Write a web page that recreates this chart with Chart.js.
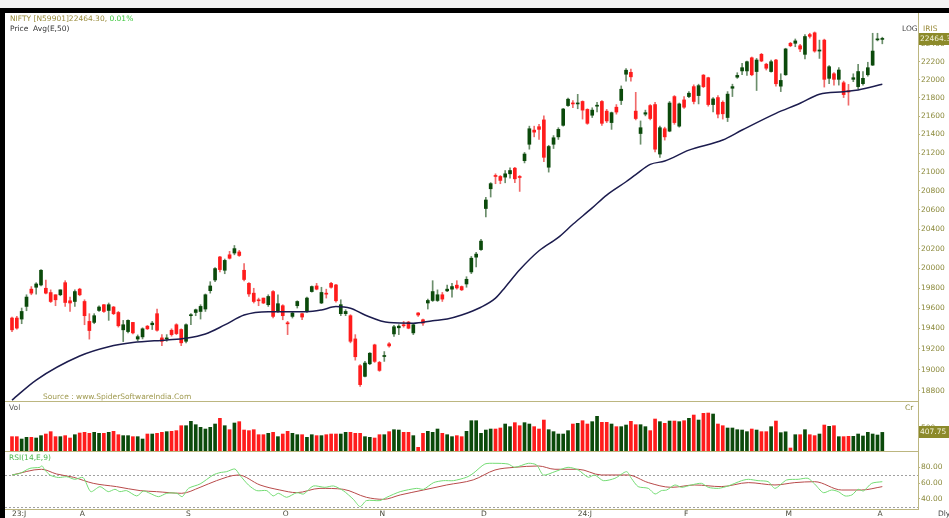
<!DOCTYPE html>
<html>
<head>
<meta charset="utf-8">
<script src="https://cdn.jsdelivr.net/npm/chart.js@4.4.1/dist/chart.umd.min.js"></script>
<style>
  html, body { margin: 0; padding: 0; background: #fff; }
  body { width: 949px; height: 518px; position: relative; overflow: hidden; font-family: 'DejaVu Sans', sans-serif; font-size: 7.5px; }
  .t { position: absolute; white-space: nowrap; line-height: 9px; }
  .bar { position: absolute; }
  canvas { position: absolute; }
</style>
</head>
<body>
<canvas id="main" width="944" height="389" style="left:5px;top:13px"></canvas>
<canvas id="vol" width="944" height="50" style="left:5px;top:402px"></canvas>
<canvas id="rsi" width="944" height="66" style="left:5px;top:452px"></canvas>

<div class="bar" style="left:0;top:0;width:949px;height:8px;background:#f3f3f3"></div>
<div class="bar" style="left:0;top:8px;width:949px;height:5px;background:#000"></div>
<div class="bar" style="left:0;top:8px;width:5px;height:510px;background:#000"></div>
<div class="bar" style="left:5px;top:401px;width:913px;height:1px;background:#bcb680"></div>
<div class="bar" style="left:5px;top:451px;width:913px;height:1px;background:#bcb680"></div>

<div class="t" style="left:10px;top:14px;color:#9a8c3c">NIFTY [N59901]22464.30, <span style="color:#3cc83c">0.01%</span></div>
<div class="t" style="left:10px;top:24px;color:#333">Price&nbsp; Avg(E,50)</div>
<div class="t" style="left:902px;top:24px;color:#444">LOG</div>
<div class="t" style="left:923px;top:24px;color:#9a8c3c">IRIS</div>
<div class="t" style="left:43px;top:392px;color:#a09a50">Source : www.SpiderSoftwareIndia.Com</div>
<div class="t" style="left:9px;top:403px;color:#555">Vol</div>
<div class="t" style="left:905px;top:403px;color:#8c8a3c">Cr</div>
<div class="t" style="left:9px;top:453px;color:#4cb84c">RSI(14,E,9)</div>
<div class="t" style="left:938px;top:509px;color:#444">Dly</div>

<script>
// 일봉 OHLC (2023-07-12 ~ 2024-04)
const opens = [
  19503,19503,19493,19618,19790,19809,19832,19799,19756,19734,
  19734,19855,19674,19667,19790,19667,19470,19460,19578,19635,
  19578,19612,19558,19387,19370,19460,19297,19318,19423,19437,
  19546,19308,19298,19383,19437,19390,19275,19526,19558,19568,
  19592,19775,19882,20115,19980,20137,20155,20166,19980,19848,
  19750,19684,19701,19635,19766,19575,19625,19456,19519,19625,
  19546,19568,19766,19822,19652,19750,19848,19832,19546,19546,
  19526,19298,19038,18936,19057,19240,19070,19127,19250,19347,
  19407,19437,19463,19357,19553,19486,19652,19677,19677,19734,
  19773,19790,19830,19816,19842,19963,20113,20190,20614,20821,
  20961,20951,20944,20979,21039,20951,21119,21295,21448,21485,
  21559,21049,21295,21375,21500,21716,21744,21734,21761,21674,
  21610,21709,21761,21655,21530,21698,21772,22063,22084,21655,
  21411,21622,21716,21727,21190,21463,21437,21815,21491,21778,
  21815,21925,21826,22053,22024,21727,21804,21752,21585,21907,
  22030,22100,22100,22247,22093,22286,22175,22093,22222,21930,
  22057,22411,22411,22383,22286,22510,22530,22323,22447,22017,
  22068,22006,21968,21880,22006,21925,21958,22057,22165,22450,
  22455
];
const highs = [
  19513,19519,19602,19734,19816,19855,19987,19882,19783,19734,
  19783,19875,19711,19783,19799,19684,19546,19546,19625,19635,
  19652,19618,19568,19480,19486,19460,19337,19407,19430,19470,
  19592,19340,19340,19397,19447,19397,19447,19546,19592,19635,
  19742,19865,20007,20121,20094,20172,20232,20182,20047,19855,
  19799,19701,19701,19734,19776,19734,19635,19470,19568,19674,
  19553,19711,19822,19848,19809,19790,19858,19839,19684,19585,
  19536,19340,19048,19080,19165,19247,19080,19175,19263,19430,
  19437,19470,19470,19443,19558,19493,19691,19875,19783,19757,
  19832,19848,19875,19822,19915,20120,20161,20295,20730,20886,
  20979,20961,21014,21042,21049,20961,21207,21491,21491,21511,
  21603,21284,21389,21474,21685,21797,21772,21840,21768,21681,
  21692,21751,21772,21674,21645,21727,21933,22127,22121,21862,
  21548,21666,21727,21751,21491,21480,21761,21826,21744,21815,
  21870,21945,21952,22060,22030,21804,21826,21768,21870,21952,
  22080,22186,22211,22256,22240,22297,22186,22222,22230,22068,
  22355,22422,22460,22400,22510,22525,22540,22447,22458,22160,
  22080,22137,21986,21950,22068,22175,22093,22197,22525,22525,
  22480
];
const lows = [
  19370,19394,19447,19575,19734,19740,19822,19742,19657,19625,
  19724,19618,19568,19618,19724,19437,19296,19447,19568,19558,
  19480,19536,19414,19272,19357,19346,19280,19298,19390,19390,
  19373,19232,19275,19325,19340,19232,19260,19437,19526,19493,
  19568,19750,19865,19963,19945,20094,20137,20121,19872,19717,
  19652,19625,19645,19618,19503,19558,19486,19340,19503,19602,
  19486,19558,19760,19783,19645,19701,19799,19661,19526,19526,
  19260,19092,18840,18930,19048,19070,18984,19080,19217,19323,
  19340,19413,19397,19340,19519,19430,19592,19667,19667,19667,
  19766,19711,19790,19776,19809,19946,20014,20182,20527,20734,
  20874,20874,20884,20933,20884,20793,21095,21242,21375,21347,
  21108,20997,21249,21347,21491,21706,21692,21681,21568,21511,
  21585,21645,21500,21530,21456,21622,21727,21986,21986,21559,
  21295,21603,21559,21214,21155,21340,21430,21511,21480,21685,
  21804,21734,21734,21914,21709,21645,21580,21568,21541,21815,
  22017,22057,22050,22046,21882,22203,22110,22086,21930,21870,
  22050,22372,22372,22316,22234,22470,22310,22240,21920,21958,
  21942,21942,21804,21720,21980,21900,21942,22041,22160,22438,
  22405
];
const closes = [
  19387,19404,19568,19711,19750,19842,19980,19750,19667,19684,
  19783,19657,19652,19766,19734,19526,19380,19526,19612,19568,
  19635,19546,19427,19437,19480,19357,19320,19397,19397,19453,
  19383,19275,19308,19340,19350,19260,19437,19536,19585,19618,
  19734,19822,19997,19987,20080,20102,20200,20130,19887,19742,
  19667,19674,19652,19717,19519,19645,19526,19446,19553,19667,
  19513,19701,19816,19790,19757,19740,19809,19674,19635,19568,
  19275,19125,18857,19064,19159,19080,18993,19137,19230,19417,
  19423,19427,19403,19437,19533,19453,19677,19766,19734,19691,
  19790,19816,19802,19783,19889,20102,20144,20277,20703,20875,
  20951,20909,20979,21014,20926,20940,21190,21463,21426,21456,
  21155,21271,21365,21456,21678,21786,21734,21744,21666,21522,
  21666,21716,21522,21548,21638,21645,21896,22108,22034,21574,
  21474,21638,21574,21242,21474,21375,21744,21530,21734,21698,
  21852,21761,21936,21925,21727,21789,21622,21626,21842,21925,
  22050,22136,22203,22057,22222,22211,22130,22203,21957,21994,
  22347,22383,22438,22346,22488,22490,22323,22335,22006,22147,
  22006,22110,21837,21865,22024,22093,22017,22136,22323,22460,
  22464.3
];

// 거래량 (Cr)
const volumes = [
  319,319,270,305,305,291,340,374,423,319,
  319,340,291,360,395,409,388,409,388,388,
  409,430,360,340,340,319,319,270,374,374,
  388,409,423,430,444,547,547,638,568,513,
  478,513,582,700,547,464,603,631,457,444,
  464,360,360,388,409,319,374,430,388,360,
  360,305,360,340,340,360,374,374,374,409,
  409,388,388,319,305,291,360,360,423,464,
  457,409,409,340,97,388,430,409,478,388,
  360,319,340,319,430,651,651,388,457,478,
  478,499,582,527,610,547,610,582,527,478,
  665,464,423,374,374,444,582,596,651,582,
  631,742,617,617,582,527,527,561,638,568,
  568,527,444,686,631,596,644,644,631,651,
  700,769,665,804,811,790,582,547,499,499,
  464,457,423,478,457,423,423,527,644,402,
  420,83,360,360,464,360,340,374,561,534,
  547,319,319,326,326,374,333,409,374,353,
  407.75
];

// EMA(50) - 그림에서 읽은 값
const emaAt  = [0, 5, 14, 20, 25, 32, 36, 40, 44, 48, 53, 61, 64, 67, 70, 73, 78, 83, 87, 90, 93, 97, 100, 102, 105, 109, 113, 116, 120, 123, 127, 129, 132, 135, 140, 147, 151, 158, 163, 167, 172, 175, 180];
const emaVal = [18710, 18901, 19132, 19222, 19262, 19288, 19305, 19346, 19435, 19533, 19566, 19566, 19583, 19616, 19600, 19533, 19458, 19452, 19477, 19494, 19533, 19610, 19700, 19810, 19985, 20178, 20315, 20450, 20620, 20755, 20895, 20970, 21079, 21115, 21232, 21341, 21449, 21631, 21741, 21840, 21869, 21888, 21951];

// RSI(14) / 시그널(9)
const rsiAt  = [0, 1.7, 3.7, 5.8, 6.2, 6.8, 7.9, 9.6, 11.3, 13, 14.7, 16.3, 18.2, 19.9, 21.3, 22.3, 23.7, 25.8, 27.2, 28.5, 30.3, 32, 34.1, 35.2, 36.5, 38.9, 41.6, 43, 44.4, 46.1, 47.1, 48.9, 50.6, 52.7, 54, 55.1, 56.8, 58.9, 60.3, 62.3, 64.7, 66.5, 68.5, 70.6, 72, 73.3, 76.1, 77.5, 80.3, 83.7, 85.1, 87.2, 89.2, 91.3, 94, 95.4, 97.8, 99.9, 102.6, 104, 106.8, 108.5, 109.9, 112.3, 115, 117.1, 119.2, 120.5, 122.3, 124.7, 127.1, 128.1, 129.5, 131.6, 133, 134.3, 135.4, 137.1, 138.5, 140.5, 142.6, 144, 146.1, 148.1, 150.9, 152.3, 154.3, 156.4, 157.8, 160.2, 162.6, 164.6, 166, 167.8, 169.5, 170.9, 172.3, 173.7, 175, 176.1, 177.8, 180];
const rsiVal = [70.2, 72.4, 78.7, 80, 82, 76.6, 70, 67, 68, 64.7, 67, 49, 55.4, 49, 52, 49, 50.3, 43.5, 49.9, 46.9, 42.6, 46.9, 46.9, 42.6, 53.2, 58.8, 70.2, 73.2, 74.5, 77.9, 70.2, 57.5, 50.3, 50.3, 43.5, 46.9, 41.8, 47.7, 46, 56.2, 54.5, 56.2, 50.3, 39.2, 29.9, 37.6, 37.6, 41.8, 49, 53.2, 52, 60.5, 63, 63, 67.3, 72.4, 84.2, 85.1, 84.2, 80, 85.1, 83, 70.2, 74.5, 80, 76.6, 67.3, 70.2, 63, 66, 74.5, 66, 55.4, 53.2, 46, 50.3, 51.1, 57.5, 54.5, 57.5, 59.6, 54.5, 53.2, 56.2, 63, 64.7, 63, 61.7, 53.2, 63.8, 64.7, 66, 58.8, 47.7, 51.1, 49, 43.5, 44.8, 52, 49.9, 59.6, 61.7];
const sigAt  = [0, 6.1, 9.2, 12.7, 16.8, 21.6, 26.5, 29.9, 35.1, 38.9, 42.3, 46.8, 51.3, 55.4, 58.9, 63.7, 68.5, 73.3, 76.8, 80.3, 85.1, 89.9, 95.4, 99.9, 104, 108.9, 112.3, 117.1, 121.9, 127.4, 131.6, 136.4, 141.2, 146.7, 152.3, 157.8, 161.9, 166, 171.6, 175.7, 180];
const sigVal = [70.2, 77.5, 71.5, 67.3, 59.6, 55.4, 50.3, 49, 46.9, 54.5, 63, 70.2, 57.5, 51.1, 47.7, 53.2, 52, 41.8, 39.2, 44.8, 51.1, 57.5, 64, 76.6, 80, 81.7, 77.5, 77.5, 70.2, 70.2, 60.5, 54.5, 57.5, 55.4, 60.5, 57.5, 60.5, 61.7, 51.1, 51.1, 55.4];

// 축 눈금
const priceTicks = [18800, 19000, 19200, 19400, 19600, 19800, 20000, 20200, 20400, 20600, 20800, 21000, 21200, 21400, 21600, 21800, 22000, 22200, 22400];
const volTicks = [500];
const rsiTicks = [40, 60, 80];
const rsiLevels = [70, 30];
const monthAt = [0, 14, 36, 56, 76, 97, 117, 139, 160, 179];
const monthText = ['23:J', 'A', 'S', 'O', 'N', 'D', '24:J', 'F', 'M', 'A'];

// 색상
const G_BODY = '#0b4a0b', R_BODY = '#ff1c1c';
const G_WICK = '#6b8e6b', R_WICK = '#f06a6a';
const AX_LINE = '#bcb680', AX_TEXT = '#8c8a3c', BOX = '#8c8a2a';

Chart.defaults.font.family = "'DejaVu Sans', sans-serif";
Chart.defaults.font.size = 7.5;
Chart.defaults.animation = false;

const idx = closes.map((_, i) => i);
const up = idx.map((i) => closes[i] >= opens[i]);
const X_MIN = -1.448, X_MAX = 187.38;

function xAxis(show) {
  return {
    type: 'linear', min: X_MIN, max: X_MAX, offset: false, display: show,
    grid: { display: false, drawTicks: false },
    border: { display: show, color: AX_LINE },
    afterBuildTicks: (ax) => { ax.ticks = monthAt.map((v) => ({ value: v })); },
    afterFit: (ax) => { if (show) ax.height = 9; ax.paddingLeft = 0; ax.paddingRight = 0; },
    ticks: {
      autoSkip: false, maxRotation: 0, align: 'start', padding: 1, color: '#4a4a3a',
      callback: (v) => monthText[monthAt.indexOf(v)],
    },
  };
}

function yAxis(extra, tickList, fmt) {
  return Object.assign({
    position: 'right',
    grid: { drawOnChartArea: false, drawTicks: true, tickLength: 2, color: AX_LINE },
    border: { color: AX_LINE },
    afterBuildTicks: (ax) => { ax.ticks = tickList.map((v) => ({ value: v })); },
    afterFit: (ax) => { ax.width = 31; ax.paddingTop = 0; ax.paddingBottom = 0; },
    ticks: { autoSkip: false, padding: 1, color: AX_TEXT, callback: fmt },
  }, extra);
}

// 오른쪽 값 박스
function valueBox(text, value) {
  return {
    id: 'valueBox',
    afterDraw(chart) {
      const ax = chart.scales.y;
      const y = ax.getPixelForValue(value);
      const ctx = chart.ctx;
      ctx.save();
      ctx.fillStyle = BOX;
      ctx.fillRect(ax.left + 1, Math.round(y) - 6, chart.width - ax.left, 12);
      ctx.fillStyle = '#f4f4dc';
      ctx.font = "7.5px 'DejaVu Sans'";
      ctx.textBaseline = 'middle';
      ctx.fillText(text, ax.left + 2, Math.round(y) + 0.5);
      ctx.restore();
    },
  };
}

const baseOpts = {
  responsive: false, devicePixelRatio: 1,
  layout: { padding: 0 },
  plugins: { legend: { display: false }, tooltip: { enabled: false } },
};

// 가격 차트
new Chart(document.getElementById('main'), {
  type: 'bar',
  data: {
    datasets: [
      {
        type: 'line', order: 0,
        data: emaAt.map((x, k) => ({ x, y: emaVal[k] })),
        borderColor: '#1c1c4e', borderWidth: 1.5, pointRadius: 0, cubicInterpolationMode: 'monotone',
      },
      {
        order: 1, grouped: false, barThickness: 3, minBarLength: 1,
        data: idx.map((i) => ({ x: i, y: [Math.min(opens[i], closes[i]), Math.max(opens[i], closes[i])] })),
        backgroundColor: idx.map((i) => (up[i] ? G_BODY : R_BODY)),
      },
      {
        order: 2, grouped: false, barThickness: 1,
        data: idx.map((i) => ({ x: i, y: [lows[i], highs[i]] })),
        backgroundColor: idx.map((i) => (up[i] ? G_WICK : R_WICK)),
      },
    ],
  },
  options: Object.assign({}, baseOpts, {
    scales: {
      x: xAxis(false),
      y: yAxis({ type: 'logarithmic', min: 18692, max: 22757 }, priceTicks, (v) => String(v)),
    },
  }),
  plugins: [valueBox(closes[closes.length - 1].toFixed(2), closes[closes.length - 1])],
});

// 거래량
new Chart(document.getElementById('vol'), {
  type: 'bar',
  data: {
    datasets: [{
      grouped: false, barThickness: 3,
      data: idx.map((i) => ({ x: i, y: volumes[i] })),
      backgroundColor: idx.map((i) => (up[i] ? G_BODY : R_BODY)),
    }],
  },
  options: Object.assign({}, baseOpts, {
    scales: {
      x: xAxis(false),
      y: yAxis({ type: 'linear', min: 0, max: 1040 }, volTicks, (v) => String(v)),
    },
  }),
  plugins: [valueBox(volumes[volumes.length - 1].toFixed(2), volumes[volumes.length - 1])],
});

// RSI
const levelLines = {
  id: 'levels',
  beforeDatasetsDraw(chart) {
    const { ctx, chartArea } = chart;
    const ax = chart.scales.y;
    ctx.save();
    ctx.strokeStyle = '#a0a0a0';
    ctx.lineWidth = 1;
    ctx.setLineDash([2, 2]);
    rsiLevels.forEach((lv) => {
      const y = Math.round(ax.getPixelForValue(lv)) + 0.5;
      ctx.beginPath();
      ctx.moveTo(chartArea.left, y);
      ctx.lineTo(chartArea.right, y);
      ctx.stroke();
    });
    ctx.restore();
  },
};

new Chart(document.getElementById('rsi'), {
  type: 'line',
  data: {
    datasets: [
      {
        data: rsiAt.map((x, k) => ({ x, y: rsiVal[k] })),
        borderColor: '#74dc74', borderWidth: 1, pointRadius: 0, tension: 0.25,
      },
      {
        data: sigAt.map((x, k) => ({ x, y: sigVal[k] })),
        borderColor: '#b84a4a', borderWidth: 1, pointRadius: 0, cubicInterpolationMode: 'monotone',
      },
    ],
  },
  options: Object.assign({}, baseOpts, {
    scales: {
      x: xAxis(true),
      y: yAxis({ type: 'linear', min: 26.9, max: 99.5 }, rsiTicks, (v) => v.toFixed(2)),
    },
  }),
  plugins: [levelLines],
});
</script>
</body>
</html>
